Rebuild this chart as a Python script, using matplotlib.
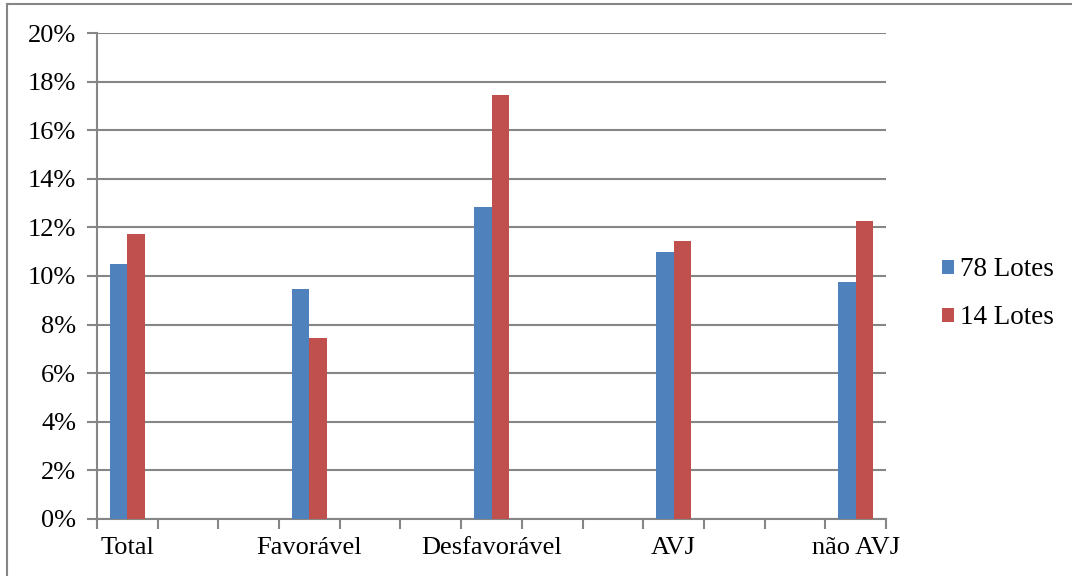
import matplotlib.pyplot as plt
import numpy as np
from matplotlib.lines import Line2D
from matplotlib.patches import Patch
from matplotlib.ticker import FuncFormatter

categories = ["Total", "Favorável", "Desfavorável", "AVJ", "não AVJ"]
lotes_78 = [10.5, 9.47, 12.83, 10.99, 9.75]
lotes_14 = [11.72, 7.44, 17.45, 11.43, 12.26]
series_names = ["78 Lotes", "14 Lotes"]
colors = ["#4F81BD", "#C0504D"]

plt.rcParams["font.family"] = ["Liberation Serif", "DejaVu Serif"]
grid_color = "#868686"
fs = 19

fig = plt.figure(figsize=(10.72, 5.76), dpi=100)
ax = fig.add_axes([0.0905, 0.099, 0.736, 0.8437])

# Excel chart: 13 category slots, labelled every third one
stride = 3
n_slots = stride * (len(categories) - 1) + 1
x = np.arange(len(categories)) * stride
width = 0.29

ax.bar(x - width / 2, np.array(lotes_78) / 100, width, color=colors[0], zorder=3)
ax.bar(x + width / 2, np.array(lotes_14) / 100, width, color=colors[1], zorder=3)

ax.set_xlim(-0.5, n_slots - 0.5)
ax.set_ylim(0, 0.20)
ax.set_yticks(np.arange(0, 0.201, 0.02))
ax.yaxis.set_major_formatter(FuncFormatter(lambda v, _: f"{v * 100:.0f}%"))
ax.yaxis.grid(True, color=grid_color, linewidth=1.5, zorder=0)

ax.set_xticks(np.arange(n_slots + 1) - 0.5)
ax.set_xticklabels([])
ax.set_xticks(x, minor=True)
ax.set_xticklabels(categories, minor=True)
ax.tick_params(axis="x", which="minor", length=0, pad=13, labelsize=fs)
ax.tick_params(axis="x", which="major", length=7, width=1.5, color=grid_color, direction="out")
ax.tick_params(axis="y", length=7, width=1.5, color=grid_color, labelsize=fs, pad=8)

for s in ["top", "right"]:
    ax.spines[s].set_visible(False)
for s in ["left", "bottom"]:
    ax.spines[s].set_color(grid_color)
    ax.spines[s].set_linewidth(1.5)

handles = [Patch(facecolor=c) for c in colors]
ax.legend(handles, series_names, loc="center left", bbox_to_anchor=(1.04, 0.463),
          frameon=False, fontsize=fs + 0.5, handlelength=0.45, handleheight=0.45,
          handletextpad=0.2, labelspacing=0.85)

# outer chart-area border
fig.add_artist(Line2D([7 / 1072, 7 / 1072], [0, 1 - 4 / 576], color=grid_color, linewidth=1.5))
fig.add_artist(Line2D([7 / 1072, 1], [1 - 4 / 576, 1 - 4 / 576], color=grid_color, linewidth=1.5))

fig.savefig("out.png", dpi=100)
